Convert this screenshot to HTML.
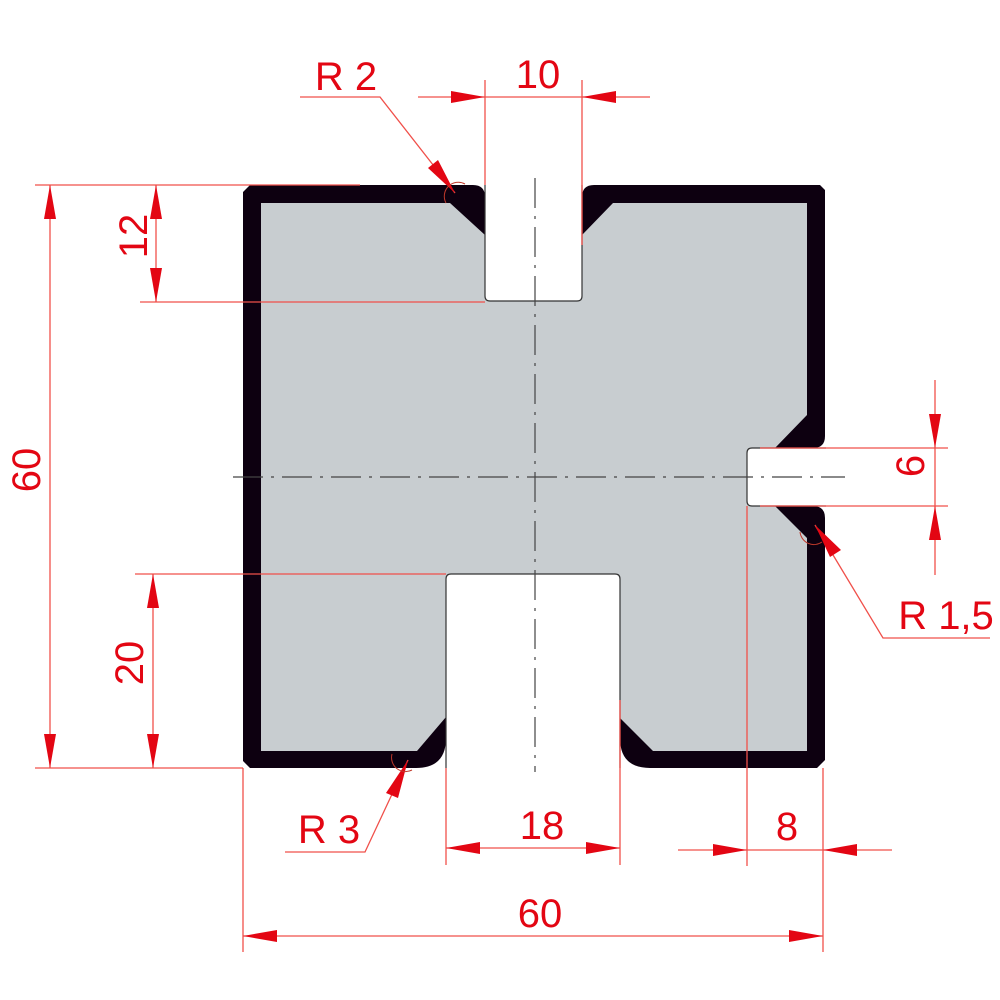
<!DOCTYPE html>
<html><head><meta charset="utf-8"><style>
html,body{margin:0;padding:0;background:#fff;}
svg{display:block;}
text{font-family:"Liberation Sans",sans-serif;font-size:40px;fill:#e30613;}
</style></head><body>
<svg width="1000" height="1000" viewBox="0 0 1000 1000" xmlns="http://www.w3.org/2000/svg">
<defs>
<marker id="a" viewBox="0 0 34 12" refX="34" refY="6" markerWidth="34" markerHeight="12" markerUnits="userSpaceOnUse" orient="auto-start-reverse">
<path d="M0,0 L34,6 L0,12 Z" fill="#e30613"/>
</marker>
</defs>
<path d="M250,185 L473,185 Q485,185 485,197 L485,296 Q485,301 490,301 L577,301 Q582,301 582,296 L582,197 Q582,185 594,185 L820,185 L825,190 L825,436 Q825,448 813,448 L752,448 Q747,448 747,453 L747,501 Q747,506 752,506 L813,506 Q825,506 825,518 L825,760 L817,768 L650,768 Q620,768 620,738 L620,579 Q620,574 615,574 L451,574 Q446,574 446,579 L446,738 Q446,768 416,768 L250,768 L243,761 L243,192 Z" fill="#0d0010"/>
<path d="M261,203 L450,203 L485,235 L485,296 Q485,301 490,301 L577,301 Q582,301 582,296 L582,235 L613,203 L807,203 L807,415 L775,448 L752,448 Q747,448 747,453 L747,501 Q747,506 752,506 L775,506 L807,538 L807,751 L653,751 L620,718 L620,579 Q620,574 615,574 L451,574 Q446,574 446,579 L446,717 L417,751 L261,751 Z" fill="#c8cdd0"/>
<path d="M485,185 L485,296 Q485,301 490,301 L577,301 Q582,301 582,296 L582,185" fill="#fff" stroke="#333" stroke-width="1.2"/>
<path d="M446,768 L446,579 Q446,574 451,574 L615,574 Q620,574 620,579 L620,768" fill="#fff" stroke="#333" stroke-width="1.2"/>
<path d="M826,448 L752,448 Q747,448 747,453 L747,501 Q747,506 752,506 L826,506" fill="#fff" stroke="#333" stroke-width="1.2"/>
<rect x="484" y="150" width="100" height="35" fill="#fff"/>
<g stroke="#444" stroke-width="1.2" stroke-dasharray="30,8,3,8" fill="none">
<line x1="535" y1="178" x2="535" y2="772"/>
<line x1="233" y1="477" x2="845" y2="477"/>
</g>
<g stroke="#f0504a" stroke-width="1.3" fill="none">
<line x1="485" y1="80" x2="485" y2="185"/>
<line x1="582" y1="80" x2="582" y2="245"/>
<line x1="418" y1="97" x2="485" y2="97" marker-end="url(#a)"/>
<line x1="650" y1="97" x2="582" y2="97" marker-end="url(#a)"/>
<line x1="485" y1="97" x2="582" y2="97"/>
<polyline points="300,97 380,97 455,193" />
<line x1="35" y1="185" x2="360" y2="185"/>
<line x1="35" y1="768" x2="243" y2="768"/>
<line x1="50" y1="185" x2="50" y2="768" marker-start="url(#a)" marker-end="url(#a)"/>
<line x1="140" y1="302" x2="485" y2="302"/>
<line x1="156" y1="185" x2="156" y2="302" marker-start="url(#a)" marker-end="url(#a)"/>
<line x1="135" y1="574" x2="446" y2="574"/>
<line x1="153" y1="574" x2="153" y2="768" marker-start="url(#a)" marker-end="url(#a)"/>
<line x1="760" y1="448" x2="948" y2="448"/>
<line x1="760" y1="506" x2="948" y2="506"/>
<line x1="935" y1="380" x2="935" y2="448" marker-end="url(#a)"/>
<line x1="935" y1="575" x2="935" y2="506" marker-end="url(#a)"/>
<line x1="935" y1="448" x2="935" y2="506"/>
<polyline points="815,525 883,638 990,638"/>
<polyline points="285,852 365,852 408,760"/>
<line x1="446" y1="768" x2="446" y2="865"/>
<line x1="620" y1="700" x2="620" y2="865"/>
<line x1="446" y1="848" x2="620" y2="848" marker-start="url(#a)" marker-end="url(#a)"/>
<line x1="747" y1="506" x2="747" y2="866"/>
<line x1="823" y1="768" x2="823" y2="952"/>
<line x1="678" y1="850" x2="747" y2="850" marker-end="url(#a)"/>
<line x1="892" y1="850" x2="823" y2="850" marker-end="url(#a)"/>
<line x1="747" y1="850" x2="823" y2="850"/>
<line x1="243" y1="768" x2="243" y2="952"/>
<line x1="243" y1="936" x2="823" y2="936" marker-start="url(#a)" marker-end="url(#a)"/>
</g>
<path d="M455,193 L428,168 L438,160 Z" fill="#e30613"/>
<path d="M815,525 L830,557 L841,550 Z" fill="#e30613"/>
<path d="M408,760 L386,793 L398,798 Z" fill="#e30613"/>
<g stroke="#c0392b" stroke-width="1" fill="none">
<path d="M446,203 A14,14 0 0 1 465,184"/>
<path d="M800,532 A14,14 0 0 0 822,542"/>
<path d="M392,754 A14,14 0 0 0 412,770"/>
</g>
<text x="538" y="88" text-anchor="middle">10</text>
<text x="346" y="90" text-anchor="middle">R 2</text>
<text x="542" y="839" text-anchor="middle">18</text>
<text x="787" y="840" text-anchor="middle">8</text>
<text x="540" y="927" text-anchor="middle">60</text>
<text x="329" y="843" text-anchor="middle">R 3</text>
<text x="946" y="629" text-anchor="middle">R 1,5</text>
<text transform="translate(40,470) rotate(-90)" text-anchor="middle">60</text>
<text transform="translate(147,236) rotate(-90)" text-anchor="middle">12</text>
<text transform="translate(143,663) rotate(-90)" text-anchor="middle">20</text>
<text transform="translate(924,466) rotate(-90)" text-anchor="middle">6</text>
</svg>
</body></html>
